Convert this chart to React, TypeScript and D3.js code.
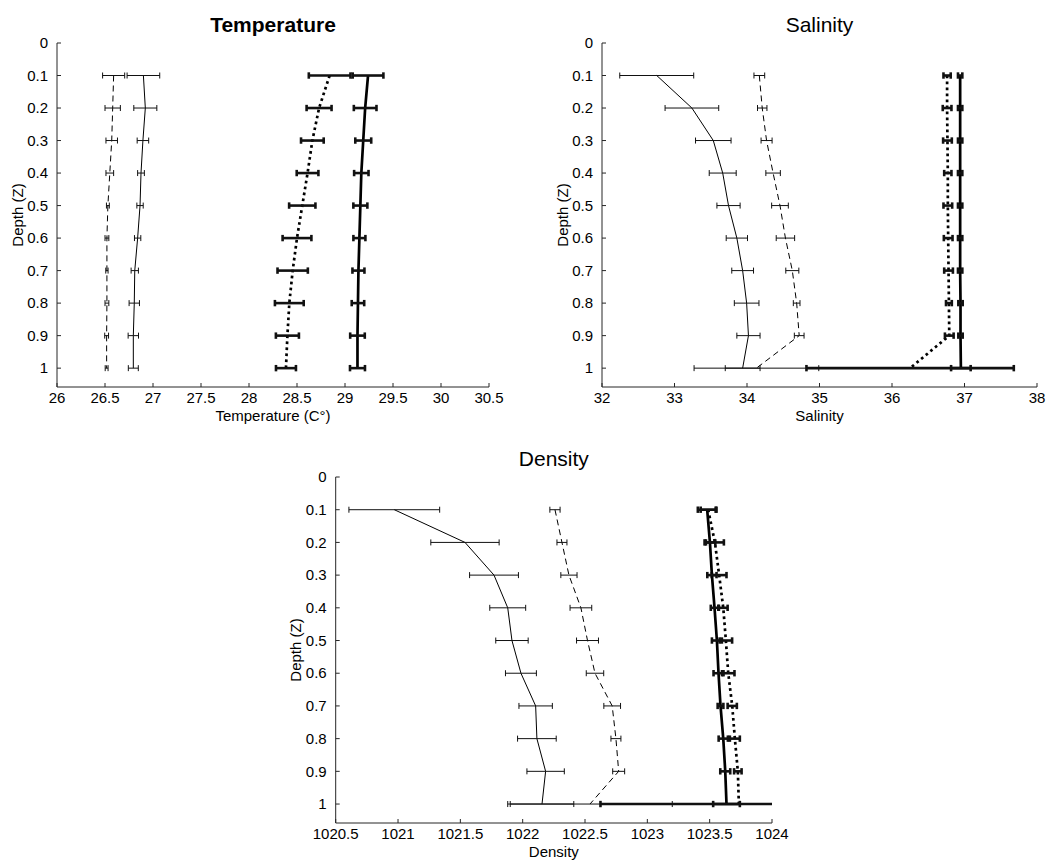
import React from "react";
import * as d3 from "d3";

// ---------- data ----------
const depths = [0.1, 0.2, 0.3, 0.4, 0.5, 0.6, 0.7, 0.8, 0.9, 1.0];
const depthTicks = [0, 0.1, 0.2, 0.3, 0.4, 0.5, 0.6, 0.7, 0.8, 0.9, 1];

// Temperature
const tempTicks = [26, 26.5, 27, 27.5, 28, 28.5, 29, 29.5, 30, 30.5];
const tempSolidThin = [26.9, 26.92, 26.895, 26.875, 26.865, 26.84, 26.81, 26.805, 26.795, 26.795];
const tempSolidThinErr = [0.17, 0.12, 0.06, 0.035, 0.033, 0.033, 0.038, 0.054, 0.054, 0.052];
const tempDashedThin = [26.59, 26.58, 26.57, 26.55, 26.53, 26.52, 26.52, 26.52, 26.517, 26.517];
const tempDashedThinErr = [0.115, 0.08, 0.06, 0.04, 0.015, 0.02, 0.012, 0.02, 0.02, 0.015];
const tempDottedThick = [28.84, 28.73, 28.66, 28.61, 28.555, 28.5, 28.455, 28.42, 28.4, 28.385];
const tempDottedThickErr = [0.217, 0.13, 0.118, 0.113, 0.137, 0.15, 0.158, 0.15, 0.12, 0.104];
const tempSolidThick = [29.24, 29.21, 29.19, 29.17, 29.16, 29.15, 29.14, 29.135, 29.13, 29.13];
const tempSolidThickErr = [0.16, 0.118, 0.083, 0.075, 0.073, 0.0625, 0.0625, 0.065, 0.076, 0.078];

// Salinity
const salTicks = [32, 33, 34, 35, 36, 37, 38];
const salSolidThin = [32.755, 33.24, 33.535, 33.665, 33.745, 33.86, 33.94, 33.995, 34.02, 33.94];
const salSolidThinErr = [0.51, 0.37, 0.245, 0.186, 0.16, 0.147, 0.15, 0.17, 0.16, 0.24];
const salDashedThin = [34.17, 34.21, 34.27, 34.36, 34.455, 34.53, 34.625, 34.685, 34.72, 34.13];
const salDashedThinErr = [0.074, 0.065, 0.076, 0.1, 0.115, 0.127, 0.09, 0.046, 0.067, 0.86];
const salDottedThick = [36.76, 36.76, 36.765, 36.77, 36.77, 36.775, 36.78, 36.785, 36.79, 36.25];
const salDottedThickErr = [0.05, 0.06, 0.06, 0.05, 0.06, 0.06, 0.06, 0.04, 0.06, 1.43];
const salSolidThick = [36.94, 36.94, 36.94, 36.94, 36.94, 36.94, 36.94, 36.945, 36.945, 36.95];
const salSolidThickErr = [0.03, 0.03, 0.03, 0.03, 0.03, 0.03, 0.03, 0.03, 0.03, 0.135];

// Density
const denTicks = [1020.5, 1021, 1021.5, 1022, 1022.5, 1023, 1023.5, 1024];
const denSolidThin = [1020.97, 1021.537, 1021.77, 1021.88, 1021.914, 1021.986, 1022.104, 1022.114, 1022.184, 1022.155];
const denSolidThinErr = [0.364, 0.274, 0.196, 0.144, 0.13, 0.124, 0.134, 0.155, 0.15, 0.255];
const denDashedThin = [1022.259, 1022.315, 1022.371, 1022.467, 1022.52, 1022.58, 1022.718, 1022.748, 1022.77, 1022.54];
const denDashedThinErr = [0.041, 0.04, 0.065, 0.087, 0.088, 0.07, 0.067, 0.04, 0.048, 0.66];
const denSolidThick = [1023.48, 1023.502, 1023.518, 1023.539, 1023.558, 1023.571, 1023.587, 1023.609, 1023.625, 1023.635];
const denSolidThickErr = [0.075, 0.043, 0.037, 0.03, 0.04, 0.04, 0.023, 0.037, 0.04, 0.107];
const denDottedThick = [1023.488, 1023.542, 1023.576, 1023.609, 1023.63, 1023.649, 1023.681, 1023.702, 1023.726, 1023.734];
const denDottedThickErr = [0.06, 0.072, 0.059, 0.035, 0.05, 0.05, 0.037, 0.04, 0.03, 1.11];

const FONT = "'Liberation Sans', Arial, Helvetica, sans-serif";
const AXIS = "#262626";

type Style = "thin" | "dashed" | "dotted" | "thick";
interface Series { values: number[]; errs: number[]; style: Style }

interface PanelProps {
  id: string;
  left: number; right: number; top: number; bottom: number;
  xDomain: [number, number];
  xTicks: number[];
  title: string;
  bold?: boolean;
  xLabel: string;
  series: Series[];
}

function fmt(v: number) {
  return String(+v.toFixed(2));
}

function Panel(p: PanelProps) {
  const x = d3.scaleLinear().domain(p.xDomain).range([p.left, p.right]);
  const y = d3.scaleLinear().domain([0, 1.058]).range([p.top, p.bottom]);
  const line = d3.line<number>().x((v) => x(v)).y((_, i) => y(depths[i]));
  const clipId = `clip-${p.id}`;

  const styleOf = (s: Style) => {
    switch (s) {
      case "thin": return { w: 1, dash: undefined as string | undefined, ew: 1, cap: 3 };
      case "dashed": return { w: 1, dash: "6,4", ew: 1, cap: 3 };
      case "dotted": return { w: 2.7, dash: "2.7,3.3", ew: 2.6, cap: 3.2 };
      case "thick": return { w: 2.7, dash: undefined, ew: 2.6, cap: 3.2 };
    }
  };

  return (
    <g>
      <defs>
        <clipPath id={clipId}>
          <rect x={p.left} y={p.top - 10} width={p.right - p.left} height={p.bottom - p.top + 10} />
        </clipPath>
      </defs>
      {/* axes */}
      <line x1={p.left} x2={p.left} y1={p.top} y2={p.bottom} stroke={AXIS} strokeWidth={1} />
      <line x1={p.left} x2={p.right} y1={p.bottom} y2={p.bottom} stroke={AXIS} strokeWidth={1} />
      {depthTicks.map((t) => (
        <g key={`yt${t}`}>
          <line x1={p.left} x2={p.left + 4} y1={y(t)} y2={y(t)} stroke={AXIS} />
          <text x={p.left - 9} y={y(t)} dy="0.35em" textAnchor="end" fontSize={15} fontFamily={FONT} fill="#000">
            {fmt(t)}
          </text>
        </g>
      ))}
      {p.xTicks.map((t) => (
        <g key={`xt${t}`}>
          <line x1={x(t)} x2={x(t)} y1={p.bottom} y2={p.bottom - 4} stroke={AXIS} />
          <text x={x(t)} y={p.bottom + 16} textAnchor="middle" fontSize={15} fontFamily={FONT} fill="#000">
            {fmt(t)}
          </text>
        </g>
      ))}
      <text
        transform={`translate(${p.left - 39.5},${(p.top + p.bottom) / 2}) rotate(-90)`}
        dy="0.35em" textAnchor="middle" fontSize={15} fontFamily={FONT} fill="#000"
      >
        Depth (Z)
      </text>
      <text x={(p.left + p.right) / 2} y={p.bottom + 34} textAnchor="middle" fontSize={15} fontFamily={FONT} fill="#000">
        {p.xLabel}
      </text>
      <text x={(p.left + p.right) / 2} y={p.top - 11} textAnchor="middle" fontSize={21}
        fontWeight={p.bold ? "bold" : "normal"} fontFamily={FONT} fill="#000">
        {p.title}
      </text>
      {/* data */}
      <g clipPath={`url(#${clipId})`}>
        {p.series.map((s, si) => {
          const st = styleOf(s.style);
          return (
            <g key={si}>
              <path d={line(s.values) || ""} fill="none" stroke="#000" strokeWidth={st.w}
                strokeDasharray={st.dash} strokeLinejoin="round" />
              {s.values.map((v, i) => {
                const yy = y(depths[i]);
                const x0 = x(v - s.errs[i]);
                const x1 = x(v + s.errs[i]);
                return (
                  <g key={i}>
                    <line x1={x0} x2={x1} y1={yy} y2={yy} stroke="#111" strokeWidth={st.ew} />
                    <line x1={x0} x2={x0} y1={yy - st.cap} y2={yy + st.cap} stroke="#111" strokeWidth={st.ew} />
                    <line x1={x1} x2={x1} y1={yy - st.cap} y2={yy + st.cap} stroke="#111" strokeWidth={st.ew} />
                  </g>
                );
              })}
            </g>
          );
        })}
      </g>
    </g>
  );
}

export default function App() {
  return (
    <svg width={1046} height={861} style={{ position: "absolute", left: 0, top: 0, background: "#fff" }}>
      <rect width={1046} height={861} fill="#fff" />
      <Panel id="temp" left={57} right={489} top={43} bottom={387}
        xDomain={[26, 30.5]} xTicks={tempTicks} title="Temperature" bold xLabel="Temperature (C°)"
        series={[
          { values: tempDashedThin, errs: tempDashedThinErr, style: "dashed" },
          { values: tempSolidThin, errs: tempSolidThinErr, style: "thin" },
          { values: tempDottedThick, errs: tempDottedThickErr, style: "dotted" },
          { values: tempSolidThick, errs: tempSolidThickErr, style: "thick" },
        ]} />
      <Panel id="sal" left={602} right={1037} top={43} bottom={387}
        xDomain={[32, 38]} xTicks={salTicks} title="Salinity" xLabel="Salinity"
        series={[
          { values: salSolidThin, errs: salSolidThinErr, style: "thin" },
          { values: salDashedThin, errs: salDashedThinErr, style: "dashed" },
          { values: salDottedThick, errs: salDottedThickErr, style: "dotted" },
          { values: salSolidThick, errs: salSolidThickErr, style: "thick" },
        ]} />
      <Panel id="den" left={335.7} right={772} top={477} bottom={823}
        xDomain={[1020.5, 1024]} xTicks={denTicks} title="Density" xLabel="Density"
        series={[
          { values: denSolidThin, errs: denSolidThinErr, style: "thin" },
          { values: denDashedThin, errs: denDashedThinErr, style: "dashed" },
          { values: denDottedThick, errs: denDottedThickErr, style: "dotted" },
          { values: denSolidThick, errs: denSolidThickErr, style: "thick" },
        ]} />
    </svg>
  );
}
